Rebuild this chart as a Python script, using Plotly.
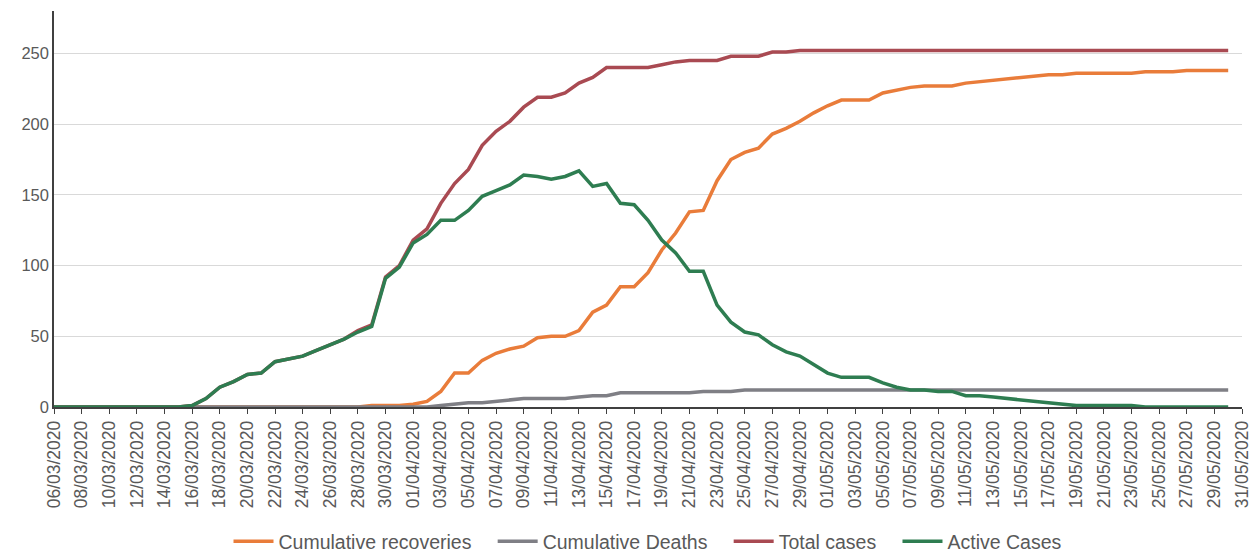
import pandas as pd
import plotly.graph_objects as go

# Daily dates 06/03/2020 .. 30/05/2020 (86 days)
dates = pd.date_range("2020-03-06", "2020-05-30", freq="D")

total_cases = [0]*10 + [
    1, 6, 14, 18, 23, 24, 32, 34, 36, 40,
    44, 48, 54, 58, 92, 100, 118, 126, 144, 158,
    168, 185, 195, 202, 212, 219, 219, 222, 229, 233,
    240, 240, 240, 240, 242, 244, 245, 245, 245, 248,
    248, 248, 251, 251, 252, 252, 252, 252, 252, 252,
    252, 252, 252, 252, 252, 252, 252, 252, 252, 252,
    252, 252, 252, 252, 252, 252, 252, 252, 252, 252,
    252, 252, 252, 252, 252, 252]

recoveries = [0]*10 + [
    0, 0, 0, 0, 0, 0, 0, 0, 0, 0,
    0, 0, 0, 1, 1, 1, 2, 4, 11, 24,
    24, 33, 38, 41, 43, 49, 50, 50, 54, 67,
    72, 85, 85, 95, 111, 123, 138, 139, 160, 175,
    180, 183, 193, 197, 202, 208, 213, 217, 217, 217,
    222, 224, 226, 227, 227, 227, 229, 230, 231, 232,
    233, 234, 235, 235, 236, 236, 236, 236, 236, 237,
    237, 237, 238, 238, 238, 238]

deaths = [0]*10 + [
    0, 0, 0, 0, 0, 0, 0, 0, 0, 0,
    0, 0, 0, 0, 0, 0, 0, 0, 1, 2,
    3, 3, 4, 5, 6, 6, 6, 6, 7, 8,
    8, 10, 10, 10, 10, 10, 10, 11, 11, 11,
    12, 12, 12, 12, 12, 12, 12, 12, 12, 12,
    12, 12, 12, 12, 12, 12, 12, 12, 12, 12,
    12, 12, 12, 12, 12, 12, 12, 12, 12, 12,
    12, 12, 12, 12, 12, 12]

active_cases = [0]*10 + [
    1, 6, 14, 18, 23, 24, 32, 34, 36, 40,
    44, 48, 53, 57, 91, 99, 116, 122, 132, 132,
    139, 149, 153, 157, 164, 163, 161, 163, 167, 156,
    158, 144, 143, 132, 118, 109, 96, 96, 72, 60,
    53, 51, 44, 39, 36, 30, 24, 21, 21, 21,
    17, 14, 12, 12, 11, 11, 8, 8, 7, 6,
    5, 4, 3, 2, 1, 1, 1, 1, 1, 0,
    0, 0, 0, 0, 0, 0]

NB = "\u00a0"
series = [
    ("Cumulative recoveries" + NB*3, recoveries, "#E97C3A"),
    ("Cumulative Deaths" + NB*3, deaths, "#7F7F85"),
    ("Total cases" + NB*3, total_cases, "#A94A52"),
    ("Active Cases", active_cases, "#2E7D51"),
]

fig = go.Figure()
for name, vals, col in series:
    fig.add_trace(go.Scatter(x=dates, y=vals, name=name, mode="lines",
                             line=dict(color=col, width=3.5)))

# the page body has an 8px margin, so the figure is sized/offset to compensate
font_family = "Liberation Sans"
fig.update_layout(
    width=1252, height=545,
    margin=dict(l=46, r=18, t=3, b=146, autoexpand=False),
    paper_bgcolor="white", plot_bgcolor="white",
    font=dict(family=font_family, color="#595959"),
    showlegend=True,
    legend=dict(orientation="h", x=0.5, xanchor="center", y=-0.34, yanchor="middle",
                font=dict(size=19.5, color="#595959"), itemwidth=40),
)
fig.update_xaxes(
    type="date", range=["2020-03-06", "2020-05-31"],
    tick0="2020-03-06", dtick=2*86400000, tickformat="%d/%m/%Y",
    tickangle=-90, tickfont=dict(size=17.5, color="#595959"),
    ticks="outside", ticklen=5, tickcolor="#404040",
    showline=True, linecolor="#404040", linewidth=1.5,
    showgrid=False, zeroline=False, automargin=False,
)
fig.update_yaxes(
    range=[0, 280], tickvals=[0, 50, 100, 150, 200, 250],
    tickfont=dict(size=16.5, color="#595959"),
    showline=True, linecolor="#404040", linewidth=1.5,
    showgrid=True, gridcolor="#D9D9D9", gridwidth=1,
    zeroline=False, ticks="", automargin=False,
)
fig.write_html("out.html")
